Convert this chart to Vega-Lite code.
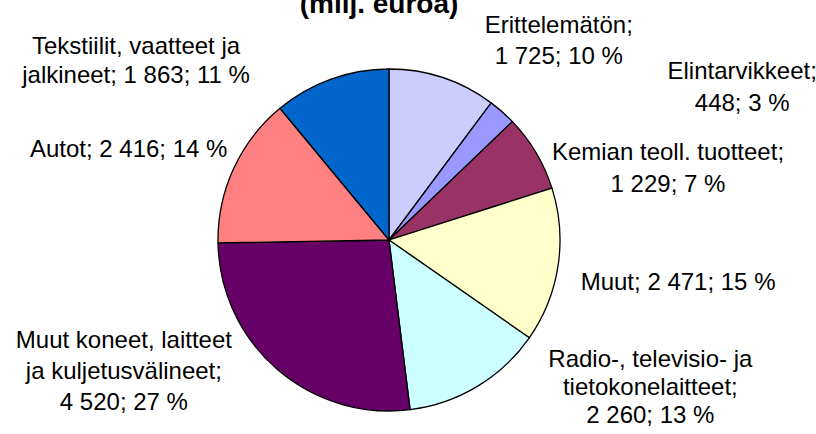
{
  "$schema": "https://vega.github.io/schema/vega-lite/v6.json",
  "width": 778,
  "height": 388,
  "autosize": {"type": "none"},
  "padding": {"left": 0, "top": 46, "right": 38, "bottom": 0},
  "background": "white",
  "config": {"view": {"stroke": null}},
  "title": {"text": "(milj. euroa)", "font": "Liberation Sans", "fontSize": 28, "fontWeight": "bold", "color": "black", "frame": "group", "anchor": "middle", "dx": -10, "offset": -5},
  "data": {"values": [
    {"idx": 1, "cat": "Erittelemätön", "value": 1725, "label": "Erittelemätön;\n1 725; 10 %"},
    {"idx": 2, "cat": "Elintarvikkeet", "value": 448, "label": "Elintarvikkeet;\n448; 3 %"},
    {"idx": 3, "cat": "Kemian teoll. tuotteet", "value": 1229, "label": "Kemian teoll. tuotteet;\n1 229; 7 %"},
    {"idx": 4, "cat": "Muut", "value": 2471, "label": "Muut; 2 471; 15 %"},
    {"idx": 5, "cat": "Radio-, televisio- ja tietokonelaitteet", "value": 2260, "label": "Radio-, televisio- ja\ntietokonelaitteet;\n2 260; 13 %"},
    {"idx": 6, "cat": "Muut koneet, laitteet ja kuljetusvälineet", "value": 4520, "label": "Muut koneet, laitteet\nja kuljetusvälineet;\n4 520; 27 %"},
    {"idx": 7, "cat": "Autot", "value": 2416, "label": "Autot; 2 416; 14 %"},
    {"idx": 8, "cat": "Tekstiilit, vaatteet ja jalkineet", "value": 1863, "label": "Tekstiilit, vaatteet ja\njalkineet; 1 863; 11 %"}
  ]},
  "layer": [
    {
      "mark": {"type": "arc", "outerRadius": 171, "stroke": "black", "strokeWidth": 1.3},
      "encoding": {
        "theta": {"field": "value", "type": "quantitative", "stack": true},
        "order": {"field": "idx", "type": "quantitative"},
        "color": {"field": "cat", "type": "nominal", "legend": null,
          "scale": {"domain": ["Erittelemätön", "Elintarvikkeet", "Kemian teoll. tuotteet", "Muut", "Radio-, televisio- ja tietokonelaitteet", "Muut koneet, laitteet ja kuljetusvälineet", "Autot", "Tekstiilit, vaatteet ja jalkineet"],
                    "range": ["#CCCCFF", "#9999FF", "#993366", "#FFFFCC", "#CCFFFF", "#660066", "#FF8080", "#0066CC"]}}
      }
    },
    {"mark": {"type": "text", "radius": 171, "dx": 116, "dy": -52, "fontSize": 24, "font": "Liberation Sans", "lineBreak": "\n", "lineHeight": 31, "align": "center", "baseline": "middle", "color": "black"},
     "encoding": {"theta": {"field": "value", "type": "quantitative", "stack": true}, "order": {"field": "idx", "type": "quantitative"}, "text": {"condition": {"test": "datum.idx === 1", "field": "label"}, "value": ""}}},
    {"mark": {"type": "text", "radius": 171, "dx": 240, "dy": -40, "fontSize": 24, "font": "Liberation Sans", "lineBreak": "\n", "lineHeight": 32, "align": "center", "baseline": "middle", "color": "black"},
     "encoding": {"theta": {"field": "value", "type": "quantitative", "stack": true}, "order": {"field": "idx", "type": "quantitative"}, "text": {"condition": {"test": "datum.idx === 2", "field": "label"}, "value": ""}}},
    {"mark": {"type": "text", "radius": 171, "dx": 132, "dy": 0, "fontSize": 24, "font": "Liberation Sans", "lineBreak": "\n", "lineHeight": 32, "align": "center", "baseline": "middle", "color": "black"},
     "encoding": {"theta": {"field": "value", "type": "quantitative", "stack": true}, "order": {"field": "idx", "type": "quantitative"}, "text": {"condition": {"test": "datum.idx === 3", "field": "label"}, "value": ""}}},
    {"mark": {"type": "text", "radius": 171, "dx": 120, "dy": 17, "fontSize": 24, "font": "Liberation Sans", "lineBreak": "\n", "lineHeight": 30, "align": "center", "baseline": "middle", "color": "black"},
     "encoding": {"theta": {"field": "value", "type": "quantitative", "stack": true}, "order": {"field": "idx", "type": "quantitative"}, "text": {"condition": {"test": "datum.idx === 4", "field": "label"}, "value": ""}}},
    {"mark": {"type": "text", "radius": 171, "dx": 173, "dy": -26, "fontSize": 24, "font": "Liberation Sans", "lineBreak": "\n", "lineHeight": 28, "align": "center", "baseline": "middle", "color": "black"},
     "encoding": {"theta": {"field": "value", "type": "quantitative", "stack": true}, "order": {"field": "idx", "type": "quantitative"}, "text": {"condition": {"test": "datum.idx === 5", "field": "label"}, "value": ""}}},
    {"mark": {"type": "text", "radius": 171, "dx": -153, "dy": -28, "fontSize": 24, "font": "Liberation Sans", "lineBreak": "\n", "lineHeight": 31, "align": "center", "baseline": "middle", "color": "black"},
     "encoding": {"theta": {"field": "value", "type": "quantitative", "stack": true}, "order": {"field": "idx", "type": "quantitative"}, "text": {"condition": {"test": "datum.idx === 6", "field": "label"}, "value": ""}}},
    {"mark": {"type": "text", "radius": 171, "dx": -105, "dy": -19, "fontSize": 24, "font": "Liberation Sans", "lineBreak": "\n", "lineHeight": 30, "align": "center", "baseline": "middle", "color": "black"},
     "encoding": {"theta": {"field": "value", "type": "quantitative", "stack": true}, "order": {"field": "idx", "type": "quantitative"}, "text": {"condition": {"test": "datum.idx === 7", "field": "label"}, "value": ""}}},
    {"mark": {"type": "text", "radius": 171, "dx": -195, "dy": -32, "fontSize": 24, "font": "Liberation Sans", "lineBreak": "\n", "lineHeight": 29, "align": "center", "baseline": "middle", "color": "black"},
     "encoding": {"theta": {"field": "value", "type": "quantitative", "stack": true}, "order": {"field": "idx", "type": "quantitative"}, "text": {"condition": {"test": "datum.idx === 8", "field": "label"}, "value": ""}}}
  ]
}
